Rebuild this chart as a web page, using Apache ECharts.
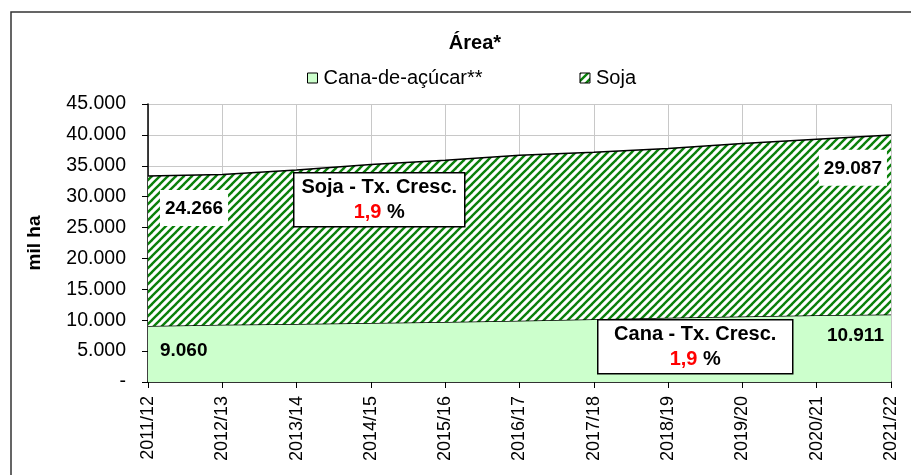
<!DOCTYPE html>
<html lang="pt">
<head>
    <meta charset="UTF-8">
    <title>Área</title>
    <script src="https://cdn.jsdelivr.net/npm/echarts@6/dist/echarts.min.js"></script>
    <style>
        html, body { margin: 0; padding: 0; background: #fff; }
        #main { width: 911px; height: 475px; }
    </style>
</head>
<body>
    <div id="main"></div>
    <script>
        // dados (mil ha)
        var categories = ['2011/12', '2012/13', '2013/14', '2014/15', '2015/16', '2016/17',
            '2017/18', '2018/19', '2019/20', '2020/21', '2021/22'];
        var canaValues = [9060, 9250, 9400, 9550, 9700, 9900, 10150, 10400, 10600, 10800, 10911];
        var sojaValues = [24266, 24350, 24900, 25650, 26200, 26800, 27050, 27400, 28000, 28500, 29087];
        var yTicks = [0, 5000, 10000, 15000, 20000, 25000, 30000, 35000, 40000, 45000];
        var growthCana = '1,9';
        var growthSoja = '1,9';

        var font = 'Liberation Sans, Arial, sans-serif';

        // hachura diagonal verde/branca
        var tile = document.createElement('canvas');
        tile.width = 8;
        tile.height = 8;
        var ctx = tile.getContext('2d');
        ctx.fillStyle = '#fff';
        ctx.fillRect(0, 0, 8, 8);
        ctx.strokeStyle = '#0a800a';
        ctx.lineWidth = 2.4;
        [-8, 0, 8].forEach(function (x0) {
            ctx.beginPath();
            ctx.moveTo(x0 - 1, 9);
            ctx.lineTo(x0 + 9, -1);
            ctx.stroke();
        });
        var hatch = { image: tile, repeat: 'repeat' };
        var canaColor = '#ccffcc';

        function fmt(v) {
            if (v === 0) return '-';
            return String(v).replace(/\B(?=(\d{3})+(?!\d))/g, '.');
        }

        function valueLabel(pos, align, boxed) {
            return {
                show: true,
                position: pos,
                align: align,
                verticalAlign: 'top',
                fontFamily: font,
                fontWeight: 'bold',
                fontSize: 19,
                color: '#000',
                backgroundColor: boxed ? '#fff' : 'transparent',
                padding: boxed ? [9, 5, 8, 5] : 0,
                formatter: function (p) { return fmt(p.value); }
            };
        }

        var canaData = canaValues.map(function (v, i) {
            var item = { value: v };
            if (i === 0) item.label = valueLabel([12, 15], 'left', false);
            if (i === canaValues.length - 1) item.label = valueLabel([-7, 12], 'right', false);
            return item;
        });
        var sojaData = sojaValues.map(function (v, i) {
            var item = { value: v };
            if (i === 0) item.label = valueLabel([12, 14], 'left', true);
            if (i === sojaValues.length - 1) item.label = valueLabel([-4, 15], 'right', true);
            return item;
        });

        function growthBox(x, y, w, h, title, rate) {
            return {
                type: 'group',
                left: x,
                top: y,
                children: [{
                    type: 'rect',
                    shape: { x: 0, y: 0, width: w, height: h },
                    style: { fill: '#fff', stroke: '#000', lineWidth: 1.5 },
                    z: 100
                }, {
                    type: 'text',
                    x: w / 2,
                    y: 15,
                    style: {
                        text: title, fill: '#000', font: 'bold 20px ' + font,
                        align: 'center', verticalAlign: 'middle'
                    },
                    z: 101
                }, {
                    type: 'text',
                    x: w / 2,
                    y: 40,
                    style: {
                        text: '{r|' + rate + '} %',
                        fill: '#000', font: 'bold 20px ' + font,
                        align: 'center', verticalAlign: 'middle',
                        rich: { r: { fill: '#ff0000', font: 'bold 20px ' + font } }
                    },
                    z: 101
                }]
            };
        }

        var chart = echarts.init(document.getElementById('main'));
        chart.setOption({
            animation: false,
            title: {
                text: 'Área*',
                left: 470,
                top: 28,
                textAlign: 'center',
                textStyle: { fontFamily: font, fontWeight: 'bold', fontSize: 20, color: '#000' }
            },
            legend: {
                top: 63,
                left: 302,
                itemGap: 97,
                itemWidth: 10,
                itemHeight: 10,
                textStyle: { fontFamily: font, fontSize: 20, color: '#000', padding: [0, 0, 0, 1] },
                data: [
                    { name: 'Cana-de-açúcar**', icon: 'rect', itemStyle: { color: canaColor, borderColor: '#000', borderWidth: 1 } },
                    { name: 'Soja', icon: 'rect', itemStyle: { color: hatch, borderColor: '#000', borderWidth: 1 } }
                ]
            },
            grid: { left: 148, right: 20, top: 104, bottom: 93 },
            xAxis: {
                type: 'category',
                data: categories,
                boundaryGap: false,
                axisLine: { lineStyle: { color: '#000', width: 1.5 } },
                axisTick: { show: true, length: 6, lineStyle: { color: '#000' } },
                axisLabel: {
                    rotate: 90,
                    margin: 14,
                    fontFamily: font,
                    fontSize: 18,
                    color: '#000'
                },
                splitLine: { show: true, lineStyle: { color: '#c8c8c8', width: 1 } }
            },
            yAxis: {
                type: 'value',
                min: yTicks[0],
                max: yTicks[yTicks.length - 1],
                interval: yTicks[1] - yTicks[0],
                name: 'mil ha',
                nameLocation: 'middle',
                nameGap: 104,
                nameRotate: 90,
                nameTextStyle: { fontFamily: font, fontWeight: 'bold', fontSize: 19, color: '#000' },
                axisLine: { show: true, lineStyle: { color: '#000', width: 1.5 } },
                axisTick: { show: true, length: 6, lineStyle: { color: '#000' } },
                axisLabel: {
                    margin: 22,
                    fontFamily: font,
                    fontSize: 19.5,
                    color: '#000',
                    formatter: fmt
                },
                splitLine: { show: true, lineStyle: { color: '#c8c8c8', width: 1 } }
            },
            series: [{
                name: 'Cana-de-açúcar**',
                type: 'line',
                stack: 'area',
                data: canaData,
                symbol: 'circle',
                symbolSize: 0.1,
                showSymbol: true,
                itemStyle: { color: canaColor },
                lineStyle: { color: '#000', width: 1.5 },
                areaStyle: { color: canaColor, opacity: 1 },
                z: 2
            }, {
                name: 'Soja',
                type: 'line',
                stack: 'area',
                data: sojaData,
                symbol: 'circle',
                symbolSize: 0.1,
                showSymbol: true,
                itemStyle: { color: '#0a800a' },
                lineStyle: { color: '#000', width: 1.5 },
                areaStyle: { color: hatch, opacity: 1 },
                z: 3
            }],
            graphic: [{
                type: 'rect',
                shape: { x: 11, y: 12, width: 920, height: 480 },
                style: { fill: 'none', stroke: '#333', lineWidth: 1.5 },
                silent: true
            },
            growthBox(293, 172, 171, 54, 'Soja - Tx. Cresc.', growthSoja),
            growthBox(597, 319, 195, 54, 'Cana - Tx. Cresc.', growthCana)
            ]
        });
    </script>
</body>
</html>
